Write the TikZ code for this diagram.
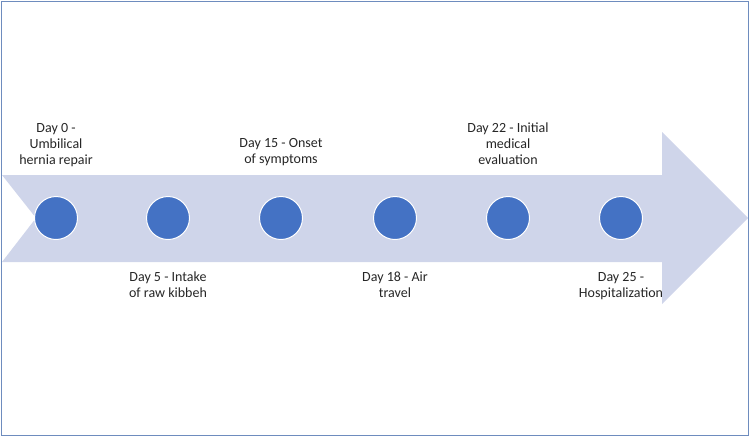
\documentclass[tikz,border=0pt]{standalone}
\usepackage{fontspec}
\setmainfont{Carlito}

\definecolor{framecol}{RGB}{110,140,190}
\definecolor{bandcol}{RGB}{207,213,234}
\definecolor{dotcol}{RGB}{68,114,196}

\tikzset{
  dot/.style={circle, fill=dotcol, draw=white, line width=1pt, minimum size=43pt, inner sep=0pt},
  event/.style={align=center, inner sep=0pt, anchor=north, text=black!85, font=\fontsize{14}{16}\selectfont}
}

\begin{document}
\begin{tikzpicture}[x=1pt, y=-1pt]
    \useasboundingbox (0,0) rectangle (750,437);
    \draw[framecol, line width=1.5pt] (1.5,1.5) rectangle (748.5,435.5);

    % timeline arrow
    \fill[bandcol] (2,175) -- (662,175) -- (662,132) -- (748,218) -- (662,304)
      -- (662,262) -- (2,262) -- (36,218) -- cycle;

    \node[dot] (d0) at (56,218) {};
    \node[dot] (d5) at (168,218) {};
    \node[dot] (d15) at (281,218) {};
    \node[dot] (d18) at (395,218) {};
    \node[dot] (d22) at (508,218) {};
    \node[dot] (d25) at (621,218) {};

    \node[event] (l0) at (56,123) {Day 0 -\\Umbilical\\hernia repair};
    \node[event] (l15) at (281,138) {Day 15 - Onset\\of symptoms};
    \node[event] (l22) at (508,123) {Day 22 - Initial\\medical\\evaluation};

    \node[event] (l5) at (168,272) {Day 5 - Intake\\of raw kibbeh};
    \node[event] (l18) at (395,272) {Day 18 - Air\\travel};
    \node[event] (l25) at (621,272) {Day 25 -\\Hospitalization};
  \end{tikzpicture}
\end{document}
